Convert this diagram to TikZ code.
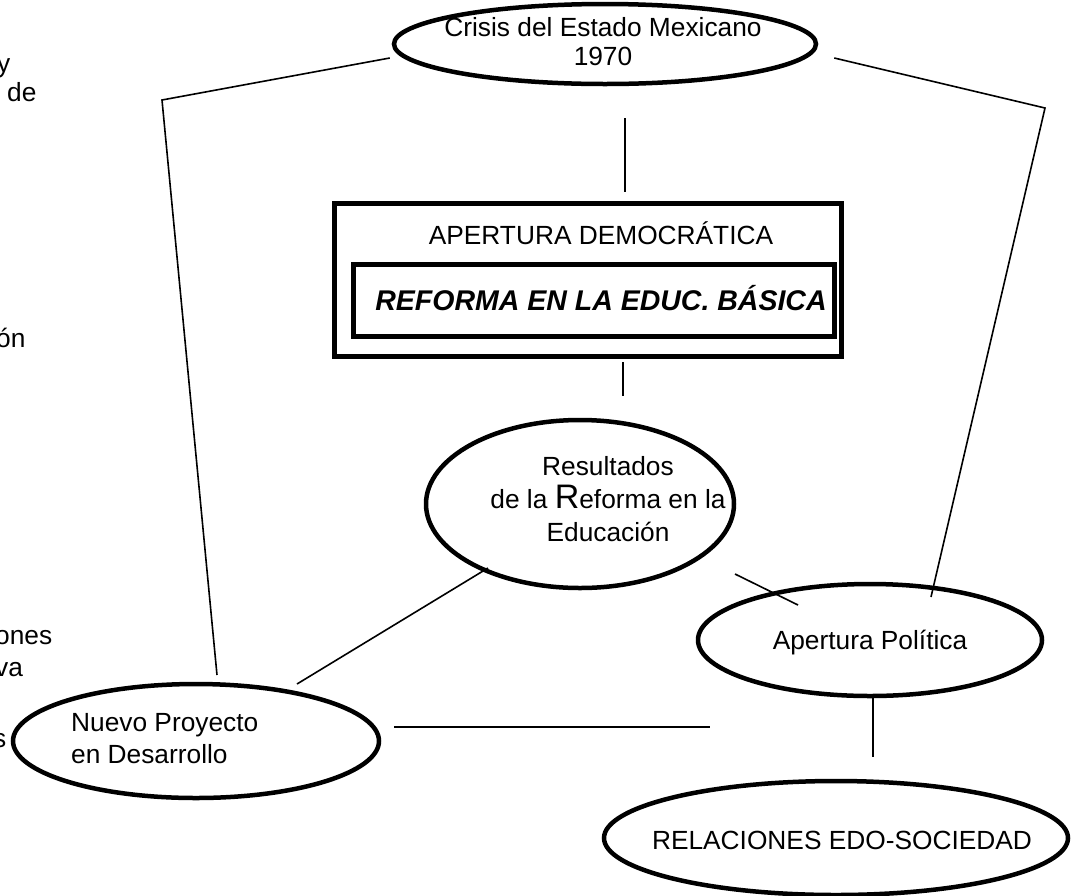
\documentclass[tikz,border=0pt]{standalone}
\usepackage{fontspec}
\setmainfont{Liberation Sans}
\usetikzlibrary{shapes.geometric}
\begin{document}
\begin{tikzpicture}[x=1pt,y=-1pt,
  ell/.style={draw,ellipse,line width=4.5pt,inner sep=0pt},
  conn/.style={line width=1.6pt},
  txt/.style={font=\fontsize{26.3}{31}\selectfont,align=center,inner sep=0pt},
  frag/.style={font=\fontsize{26.3}{31}\selectfont,inner sep=0pt,anchor=west}]
\useasboundingbox (0,0) rectangle (1071,895);
% left clipped fragments
\node[frag] (f1) at (-3,68) {y};
\node[frag] (f2) at (7,92) {de};
\node[frag] (f3) at (-4,338) {ón};
\node[frag] (f4) at (-5,638) {ones};
\node[frag] (f5) at (-5,670) {va};
\node[frag] (f6) at (-7,741) {s};
% top ellipse
\node[ell,minimum width=422pt,minimum height=80pt] (crisis) at (605,44) {};
\node[txt,font=\fontsize{26.3}{29}\selectfont] (crisisT) at (603,42) {Crisis del Estado Mexicano\\1970};
% box
\node[draw,line width=5pt,minimum width=507pt,minimum height=153pt] (outer) at (588,280) {};
\node[draw,line width=5pt,minimum width=481pt,minimum height=72pt] (inner) at (594,300) {};
\node[txt] (aperT) at (601,233) {APERTURA DEMOCRÁTICA};
\node[txt,font=\fontsize{28.5}{32}\selectfont\bfseries\itshape] (refT) at (601,298) {REFORMA EN LA EDUC. BÁSICA};
% resultados
\node[ell,minimum width=308pt,minimum height=168pt] (res) at (580,504) {};
\node[txt,font=\fontsize{26.3}{33}\selectfont] (resT) at (608,499) {Resultados\\de la {\fontsize{34}{33}\selectfont R}eforma en la\\Educación};
% apertura politica
\node[ell,minimum width=344pt,minimum height=112pt] (apol) at (870,640) {};
\node[txt] (apolT) at (870,643) {Apertura Política};
% relaciones
\node[ell,minimum width=464pt,minimum height=114pt] (rel) at (836,838) {};
\node[txt] (relT) at (842,840) {RELACIONES EDO-SOCIEDAD};
% nuevo proyecto
\node[ell,minimum width=366pt,minimum height=114pt] (nuevo) at (196,741) {};
\node[txt,align=left,anchor=west,font=\fontsize{26.3}{32}\selectfont] (nuevoT) at (71,739) {Nuevo Proyecto\\en Desarrollo};
% connector end points
\coordinate (lc) at (162,100);
\coordinate (le) at (217,675);
\coordinate (rc) at (1045,108);
\coordinate (re) at (931,597);
\coordinate (v1a) at (625,118);
\coordinate (v1b) at (625,192);
\coordinate (v2a) at (623,362);
\coordinate (v2b) at (623,396);
\coordinate (d1a) at (488,568);
\coordinate (d1b) at (297,684);
\coordinate (d2a) at (735,574);
\coordinate (d2b) at (798,605);
\coordinate (ha) at (394,727);
\coordinate (hb) at (710,727);
\coordinate (va) at (873,697);
\coordinate (vb) at (873,757);
\draw[conn] (crisis.west) ++(-2,14) -- (lc) -- (le);
\draw[conn] (crisis.east) ++(16,14) -- (rc) -- (re);
\draw[conn] (v1a) -- (v1b);
\draw[conn] (v2a) -- (v2b);
\draw[conn] (d1a) -- (d1b);
\draw[conn] (d2a) -- (d2b);
\draw[conn] (ha) -- (hb);
\draw[conn] (va) -- (vb);
\end{tikzpicture}
\end{document}
